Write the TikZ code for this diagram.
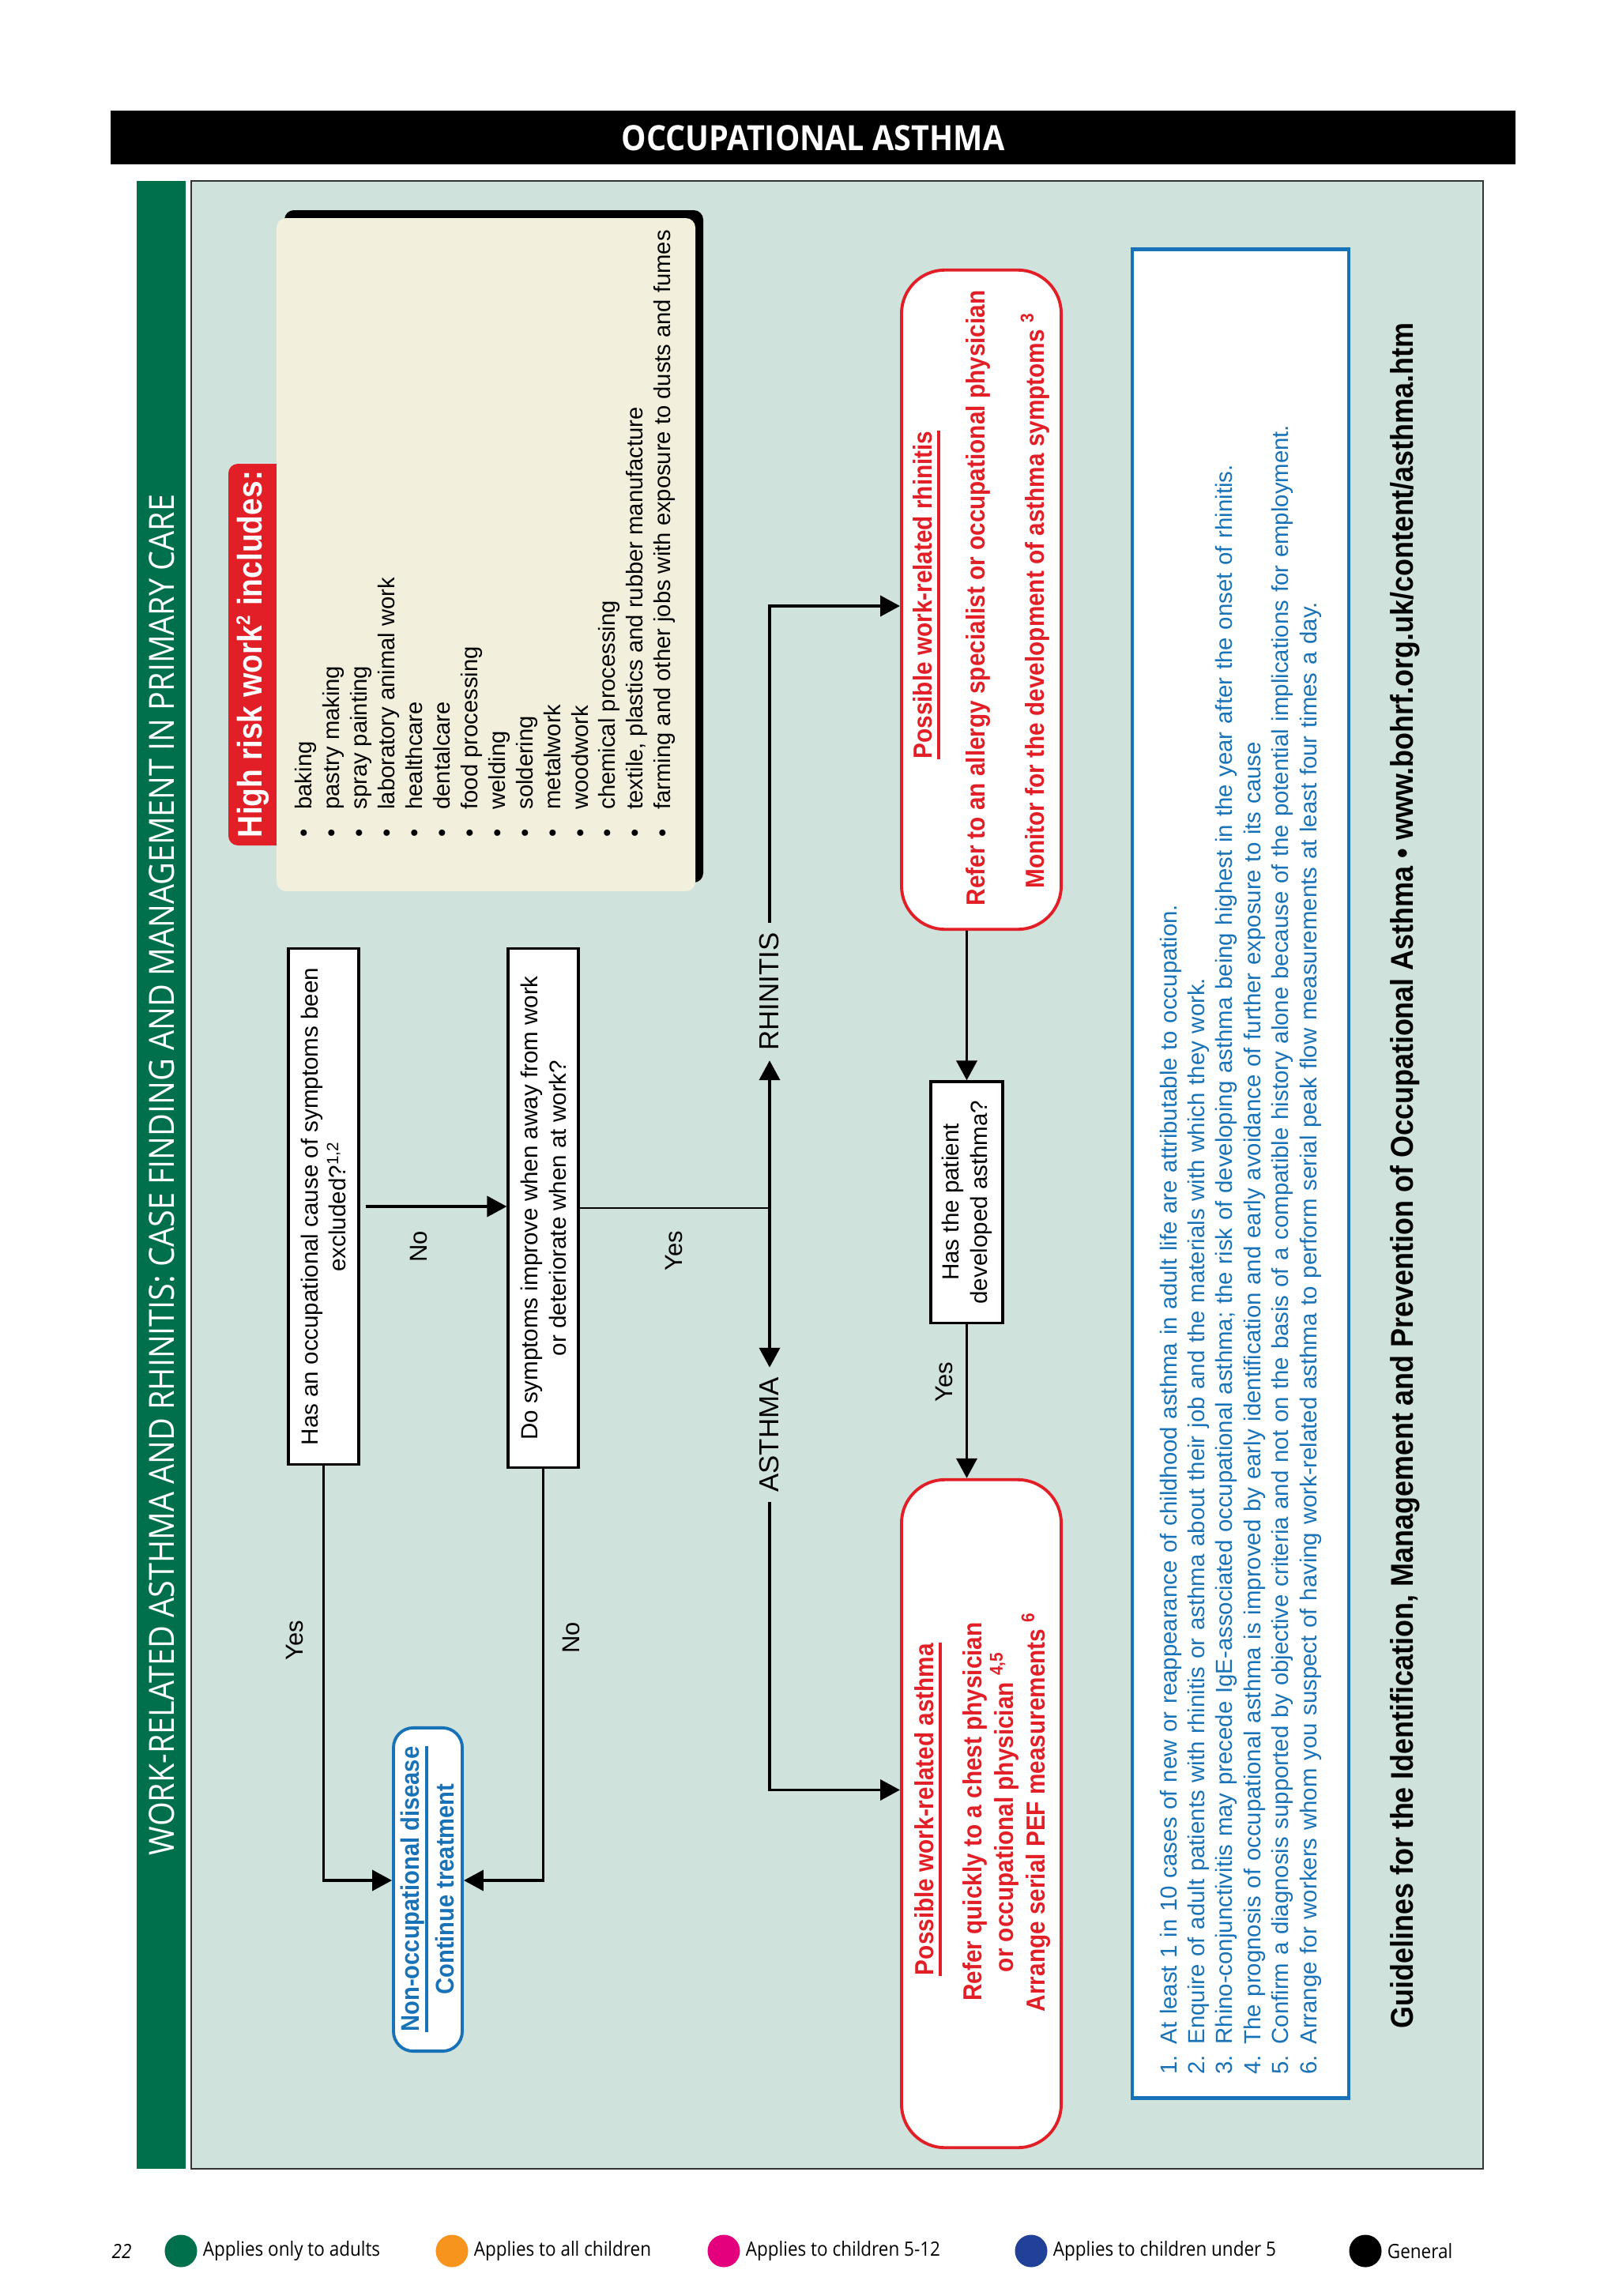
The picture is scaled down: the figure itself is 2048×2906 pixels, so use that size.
\documentclass[tikz,border=0pt]{standalone}
\usepackage{fontspec}
\setmainfont{Liberation Sans}
\newfontfamily\condfont{Liberation Sans}[FakeStretch=0.9]
\newfontfamily\myriad{Open Sans}[FakeStretch=0.9]
\usepackage{tikz}
\usetikzlibrary{arrows.meta,positioning}

\definecolor{panelteal}{RGB}{207,226,220}
\definecolor{bargreen}{RGB}{0,112,76}
\definecolor{listcream}{RGB}{242,240,221}
\definecolor{flowred}{RGB}{226,30,38}
\definecolor{flowblue}{RGB}{24,114,184}
\definecolor{dotorange}{RGB}{247,148,30}
\definecolor{dotpink}{RGB}{228,0,124}
\definecolor{dotnavy}{RGB}{33,64,152}

\begin{document}
\begin{tikzpicture}[x=0.01cm, y=-0.01cm, >={Triangle[length=0.25cm, width=0.26cm]},
	question/.style={draw, line width=0.9pt, fill=white, rotate=90, align=center, inner sep=0pt, font=\fontsize{8.4}{10.2}\selectfont},
	outcome/.style={draw=flowred, line width=1.1pt, fill=white, rotate=90, rounded corners=0.55cm},
	redtext/.style={rotate=90, align=center, inner sep=0pt, text=flowred, font=\condfont\bfseries\fontsize{9.4}{10.2}\selectfont},
	bluetext/.style={rotate=90, inner sep=0pt, text=flowblue, font=\condfont\bfseries\fontsize{9.2}{10.2}\selectfont},
	branch/.style={rotate=90, inner xsep=0.12cm, inner ysep=0pt, font=\fontsize{9.9}{12}\selectfont},
	answer/.style={rotate=90, inner sep=0pt, font=\fontsize{8.8}{10}\selectfont},
	flow/.style={line width=1.1pt},
	legend/.style={inner sep=0pt, font=\myriad\fontsize{7.1}{8}\selectfont},
	dot/.style={circle, minimum size=0.41cm, inner sep=0pt}]

	\useasboundingbox (0,0) rectangle (2048,2906);
	\fill[white] (0,0) rectangle (2048,2906);

	% header and side bar
	\fill (140,140) rectangle (1918,208);
	\node[text=white, font=\myriad\bfseries\fontsize{12.5}{14}\selectfont] (title) at (1029,175) {OCCUPATIONAL ASTHMA};
	\fill[bargreen] (173,229) rectangle (235,2745);
	\node[rotate=90, text=white, font=\myriad\fontsize{12.5}{14}\selectfont] (subtitle) at (205,1487) {WORK-RELATED ASTHMA AND RHINITIS: CASE FINDING AND MANAGEMENT IN PRIMARY CARE};
	\filldraw[fill=panelteal, draw=black!80, line width=0.6pt] (242,229) rectangle (1877,2745);

	% high risk work list
	\fill[rounded corners=0.12cm] (360,266) rectangle (890,1117);
	\fill[flowred, rounded corners=0.12cm] (289,587) rectangle (365,1070);
	\fill[listcream, rounded corners=0.12cm] (350,276) rectangle (880,1128);
	\node[rotate=90, text=white, inner sep=0pt, font=\condfont\bfseries\fontsize{12.3}{14}\selectfont] (risktitle) at (320,828) {High risk work\textsuperscript{\scriptsize 2} includes:};
	\node[rotate=90, anchor=north west, align=left, inner sep=0pt, font=\fontsize{8.3}{9.93}\selectfont] (risklist) at (373,1060) {\textbullet\hspace{7pt}baking\\
		\textbullet\hspace{7pt}pastry making\\
		\textbullet\hspace{7pt}spray painting\\
		\textbullet\hspace{7pt}laboratory animal work\\
		\textbullet\hspace{7pt}healthcare\\
		\textbullet\hspace{7pt}dentalcare\\
		\textbullet\hspace{7pt}food processing\\
		\textbullet\hspace{7pt}welding\\
		\textbullet\hspace{7pt}soldering\\
		\textbullet\hspace{7pt}metalwork\\
		\textbullet\hspace{7pt}woodwork\\
		\textbullet\hspace{7pt}chemical processing\\
		\textbullet\hspace{7pt}textile, plastics and rubber manufacture\\
		\textbullet\hspace{7pt}farming and other jobs with exposure to dusts and fumes};

	% questions
	\node[question, minimum width=6.52cm, minimum height=0.89cm] (excluded) at (409.5,1527) {Has an occupational cause of symptoms been\\excluded?\textsuperscript{1,2}};
	\node[question, minimum width=6.56cm, minimum height=0.89cm] (improve) at (687.5,1529) {Do symptoms improve when away from work\\or deteriorate when at work?};
	\node[question, minimum width=3.05cm, minimum height=0.91cm] (developed) at (1223.5,1521.5) {Has the patient\\developed asthma?};

	% outcomes
	\node[draw=flowblue, line width=1.1pt, fill=white, rotate=90, rounded corners=0.25cm, minimum width=4.09cm, minimum height=0.87cm] (nonocc) at (541.5,2391.5) {};
	\node[bluetext] (nonocctitle) at (522,2391) {Non-occupational disease};
	\draw[flowblue, line width=1pt] ([xshift=0.02cm]nonocctitle.south west) -- ([xshift=0.02cm]nonocctitle.south east);
	\node[bluetext] (nonocctreat) at (563,2391) {Continue treatment};

	\node[outcome, minimum width=8.34cm, minimum height=2.02cm] (rhinbox) at (1242,759) {};
	\node[redtext] (rhintitle) at (1168,753) {Possible work-related rhinitis};
	\draw[flowred, line width=1pt] ([xshift=0.07cm]rhintitle.south west) -- ([xshift=0.07cm]rhintitle.south east);
	\node[redtext] (rhinrefer) at (1238,757) {Refer to an allergy specialist or occupational physician};
	\node[redtext] (rhinmonitor) at (1310,760) {Monitor for the development of asthma symptoms \textsuperscript{3}};

	\node[outcome, minimum width=8.45cm, minimum height=2.02cm] (asthbox) at (1242,2295.5) {};
	\node[redtext] (asthtitle) at (1170,2290) {Possible work-related asthma};
	\draw[flowred, line width=1pt] ([xshift=0.07cm]asthtitle.south west) -- ([xshift=0.07cm]asthtitle.south east);
	\node[redtext] (asthrefer) at (1274,2293) {Refer quickly to a chest physician\\or occupational physician \textsuperscript{4,5}\\Arrange serial PEF measurements \textsuperscript{6}};

	% branch labels
	\node[branch] (rhinitis) at (974,1255) {RHINITIS};
	\node[branch] (asthma) at (974,1816) {ASTHMA};
	\coordinate (split) at (improve.south -| rhinitis);

	% connectors
	\draw[flow, ->, shorten <=0.07cm] (excluded.south) -- (excluded.south -| improve.north);
	\draw[flow, ->] (excluded.west) |- ([yshift=0.115cm]nonocc.north);
	\draw[flow, ->] (improve.west) |- ([yshift=0.115cm]nonocc.south);
	\draw[line width=0.7pt] (improve.south) -- (split);
	\draw[flow, ->] (split) -- (rhinitis.west);
	\draw[flow, ->] (split) -- (asthma.east);
	\draw[flow, ->] (rhinitis.east) |- ([yshift=-0.08cm]rhinbox.north);
	\draw[flow, ->] (asthma.west) |- ([yshift=0.3cm]asthbox.north);
	\draw[flow, ->] (rhinbox.west -| developed) -- (developed.east);
	\draw[flow, ->] (developed.west) -- (developed.west |- asthbox.east);

	\node[answer] (noexcl) at (530,1578) {No};
	\node[answer] (yesexcl) at (373,2076) {Yes};
	\node[answer] (noimpr) at (723,2073) {No};
	\node[answer] (yesimpr) at (853,1583) {Yes};
	\node[answer] (yesdev) at (1195,1749) {Yes};

	% notes
	\node[draw=flowblue, line width=1.3pt, fill=white, rotate=90, minimum width=23.39cm, minimum height=2.74cm, text width=22.79cm, inner xsep=0.3cm, align=left, text=flowblue, font=\fontsize{8.35}{10.06}\selectfont] (notes) at (1570,1485.5) {\makebox[1.3em][l]{1.}At least 1 in 10 cases of new or reappearance of childhood asthma in adult life are attributable to occupation.\\
		\makebox[1.3em][l]{2.}Enquire of adult patients with rhinitis or asthma about their job and the materials with which they work.\\
		\makebox[1.3em][l]{3.}Rhino-conjunctivitis may precede IgE-associated occupational asthma; the risk of developing asthma being highest in the year after the onset of rhinitis.\\
		\makebox[1.3em][l]{4.}The prognosis of occupational asthma is improved by early identification and early avoidance of further exposure to its cause\\
		\makebox[1.3em][l]{5.}Confirm a diagnosis supported by objective criteria and not on the basis of a compatible history alone because of the potential implications for employment.\\
		\makebox[1.3em][l]{6.}Arrange for workers whom you suspect of having work-related asthma to perform serial peak flow measurements at least four times a day.};

	\node[rotate=90, font=\condfont\bfseries\fontsize{11.35}{13}\selectfont] (guidelines) at (1778,1488) {Guidelines for the Identification, Management and Prevention of Occupational Asthma \textbullet{} www.bohrf.org.uk/content/asthma.htm};

	% legend
	\node[legend, font=\myriad\itshape\fontsize{7.1}{8}\selectfont] (pagenum) at (154,2849) {22};
	\node[dot, fill=bargreen] (adults) at (229,2849) {};
	\node[legend, right=0.06cm of adults] (adultstext) {Applies only to adults};
	\node[dot, fill=dotorange] (children) at (572,2849) {};
	\node[legend, right=0.06cm of children] (childrentext) {Applies to all children};
	\node[dot, fill=dotpink] (school) at (916,2849) {};
	\node[legend, right=0.06cm of school] (schooltext) {Applies to children 5-12};
	\node[dot, fill=dotnavy] (under) at (1305,2849) {};
	\node[legend, right=0.06cm of under] (undertext) {Applies to children under 5};
	\node[dot, fill=black] (general) at (1728,2849) {};
	\node[legend, right=0.06cm of general] (generaltext) {General};

\end{tikzpicture}
\end{document}
